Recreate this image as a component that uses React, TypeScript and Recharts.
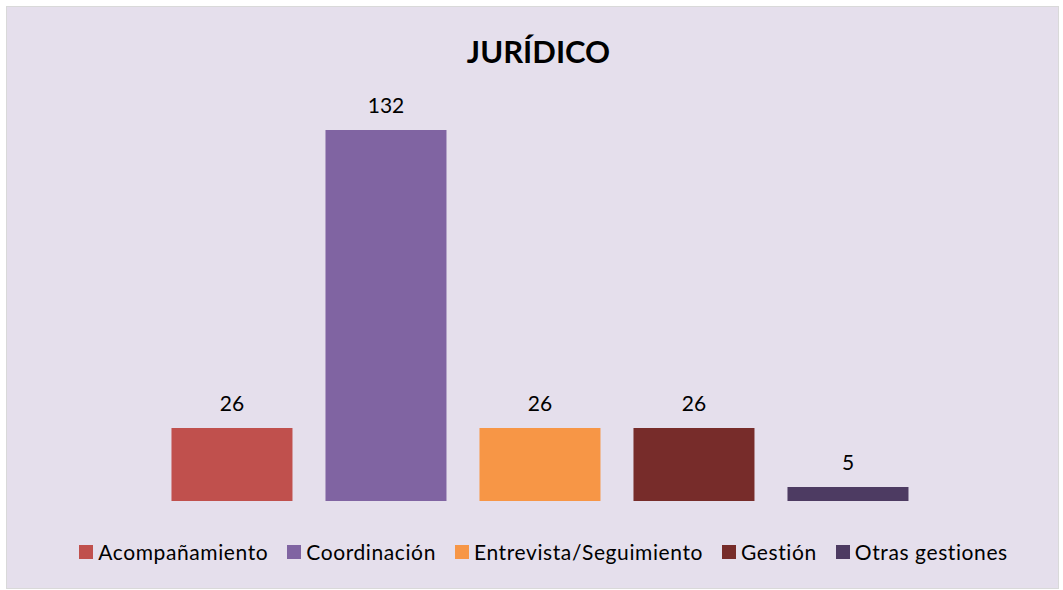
import { Bar, BarChart, Cell, LabelList, XAxis, YAxis } from "recharts";

const categories = ["Acompañamiento", "Coordinación", "Entrevista/Seguimiento", "Gestión", "Otras gestiones"];
const values = [26, 132, 26, 26, 5];
const colors = ["#C0504D", "#8064A2", "#F79646", "#772C2A", "#4D3B62"];

const data = categories.map((name, i) => ({ name, value: values[i] }));

const FONT = "Lato, 'Open Sans', sans-serif";

export default function App() {
	return (
		<div
			style={{
				position: "absolute",
				left: 6,
				top: 6,
				width: 1051,
				height: 581,
				background: "#E5DFEC",
				border: "1px solid #D9D9D9",
				fontFamily: FONT,
			}}
		>
			<div
				style={{
					position: "absolute",
					top: 25,
					left: 0,
					width: "100%",
					textAlign: "center",
					fontSize: 31,
					fontWeight: 700,
					color: "#000",
					paddingLeft: 12,
					boxSizing: "border-box",
				}}
			>
				JURÍDICO
			</div>
			<div style={{ position: "absolute", left: 0, top: 0 }}>
				<BarChart
					width={1051}
					height={581}
					data={data}
					margin={{ top: 123, right: 133, bottom: 87, left: 148 }}
					barCategoryGap="10.7%"
				>
					<XAxis dataKey="name" hide />
					<YAxis hide domain={[0, 132]} />
					<Bar dataKey="value" isAnimationActive={false}>
						{data.map((d, i) => (
							<Cell key={d.name} fill={colors[i]} />
						))}
						<LabelList
							dataKey="value"
							position="top"
							offset={17}
							style={{ fill: "#000", fontSize: 21, fontFamily: FONT }}
						/>
					</Bar>
				</BarChart>
			</div>
			<div
				style={{
					position: "absolute",
					top: 532,
					left: 0,
					width: "100%",
					display: "flex",
					justifyContent: "center",
					gap: 19,
					fontSize: 21,
					letterSpacing: 0.6,
					color: "#000",
					paddingLeft: 22,
					boxSizing: "border-box",
				}}
			>
				{categories.map((c, i) => (
					<div key={c} style={{ display: "flex", alignItems: "center" }}>
						<span
							style={{
								width: 14,
								height: 14,
								background: colors[i],
								display: "inline-block",
								marginRight: 5,
							}}
						/>
						<span>{c}</span>
					</div>
				))}
			</div>
		</div>
	);
}
